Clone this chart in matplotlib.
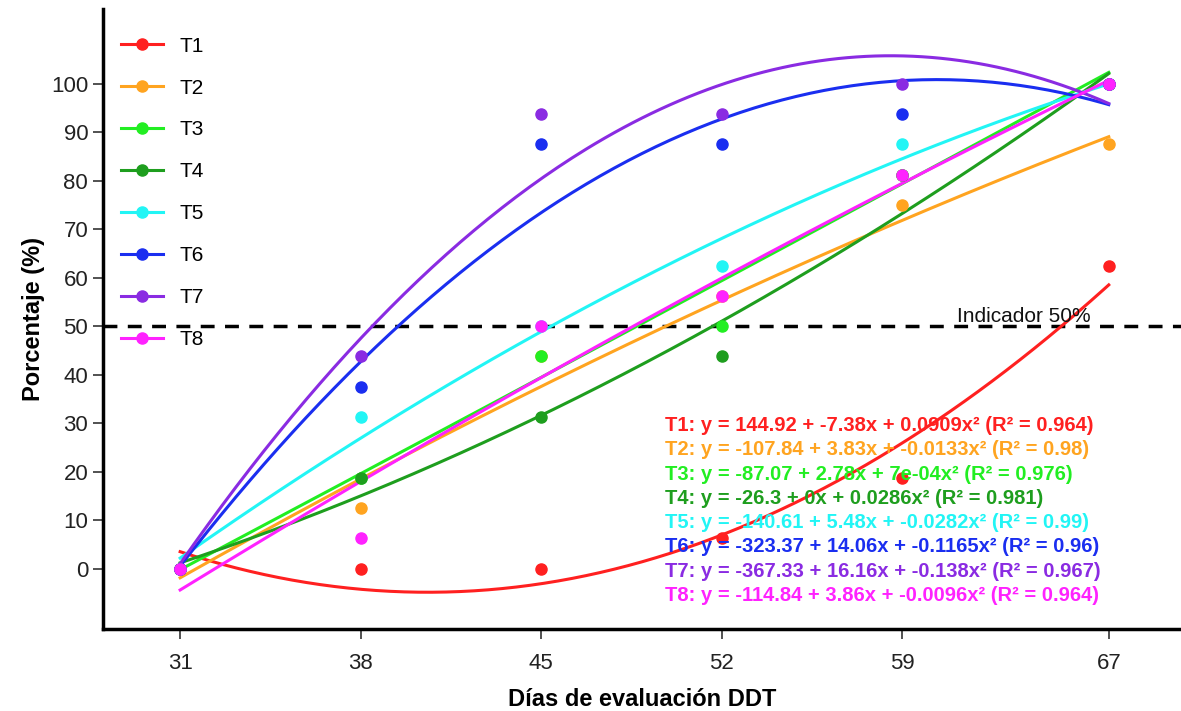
import numpy as np
import matplotlib
matplotlib.use("Agg")
import matplotlib.pyplot as plt

# Data
dias = [31, 38, 45, 52, 59, 67]
tratamientos = ["T1", "T2", "T3", "T4", "T5", "T6", "T7", "T8"]
colores = ["#FF2020", "#FFA420", "#22EE22", "#1E9E1E", "#22F5F5", "#1A2EF0", "#8A2BE2", "#FF22FF"]

t1 = [0, 0, 0, 6.25, 18.75, 62.5]
t2 = [0, 12.5, 43.75, 56.25, 75, 87.5]
t3 = [0, 18.75, 43.75, 50, 81.25, 100]
t4 = [0, 18.75, 31.25, 43.75, 81.25, 100]
t5 = [0, 31.25, 50, 62.5, 87.5, 100]
t6 = [0, 37.5, 87.5, 87.5, 93.75, 100]
t7 = [0, 43.75, 93.75, 93.75, 100, 100]
t8 = [0, 6.25, 50, 56.25, 81.25, 100]
valores = [t1, t2, t3, t4, t5, t6, t7, t8]

# quadratic fit coefficients (a, b, c) as printed in the chart
coef = [
    (144.92, -7.38, 0.0909),
    (-107.84, 3.83, -0.0133),
    (-87.07, 2.78, 7e-04),
    (-26.3, 0.0, 0.0286),
    (-140.61, 5.48, -0.0282),
    (-323.37, 14.06, -0.1165),
    (-367.33, 16.16, -0.138),
    (-114.84, 3.86, -0.0096),
]
ecuaciones = [
    "T1: y = 144.92 + -7.38x + 0.0909x\u00b2 (R\u00b2 = 0.964)",
    "T2: y = -107.84 + 3.83x + -0.0133x\u00b2 (R\u00b2 = 0.98)",
    "T3: y = -87.07 + 2.78x + 7e-04x\u00b2 (R\u00b2 = 0.976)",
    "T4: y = -26.3 + 0x + 0.0286x\u00b2 (R\u00b2 = 0.981)",
    "T5: y = -140.61 + 5.48x + -0.0282x\u00b2 (R\u00b2 = 0.99)",
    "T6: y = -323.37 + 14.06x + -0.1165x\u00b2 (R\u00b2 = 0.96)",
    "T7: y = -367.33 + 16.16x + -0.138x\u00b2 (R\u00b2 = 0.967)",
    "T8: y = -114.84 + 3.86x + -0.0096x\u00b2 (R\u00b2 = 0.964)",
]

plt.rcParams['font.family'] = ['Liberation Sans', 'DejaVu Sans']

fig = plt.figure(figsize=(11.81, 7.11), dpi=100)
ax = fig.add_axes([0.087, 0.115, 0.913, 0.873])

xs = np.linspace(31, 67, 200)
for nombre, col, ys, (a, b, c) in zip(tratamientos, colores, valores, coef):
    ax.plot(xs, a + b * xs + c * xs ** 2, color=col, lw=2.2, zorder=3)
    ax.plot(dias, ys, 'o', color=col, ms=8, zorder=4)
    ax.plot([], [], '-o', color=col, lw=2.2, ms=8, label=nombre)

ax.axhline(50, color='black', ls=(0, (4, 3)), lw=2.5, zorder=2)
ax.text(63.7, 50.0, "Indicador 50%", fontsize=15, color='#111111',
        ha='center', va='bottom')

for i, (txt, col) in enumerate(zip(ecuaciones, colores)):
    ax.text(49.8, 29.5 - 5 * i, txt, color=col, fontsize=14.5, fontweight='bold',
            ha='left', va='center', zorder=5)

ax.set_xlim(28.0, 69.8)
ax.set_ylim(-12.5, 115.5)
ax.set_xticks(dias)
ax.set_yticks(range(0, 101, 10))
ax.tick_params(labelsize=16, length=7, width=1.2, colors='#333333', labelcolor='#222222')
ax.tick_params(axis='x', pad=10)
for s in ['top', 'right']:
    ax.spines[s].set_visible(False)
for s in ['left', 'bottom']:
    ax.spines[s].set_linewidth(2.5)

ax.set_xlabel("Días de evaluación DDT", fontsize=17, fontweight='bold', labelpad=10)
ax.set_ylabel("Porcentaje (%)", fontsize=17, fontweight='bold', labelpad=4)

leg = ax.legend(loc='upper left', bbox_to_anchor=(0.0, 0.985), frameon=False,
                fontsize=15, handlelength=2.0, labelspacing=1.1)

fig.savefig("out.png", dpi=100)
